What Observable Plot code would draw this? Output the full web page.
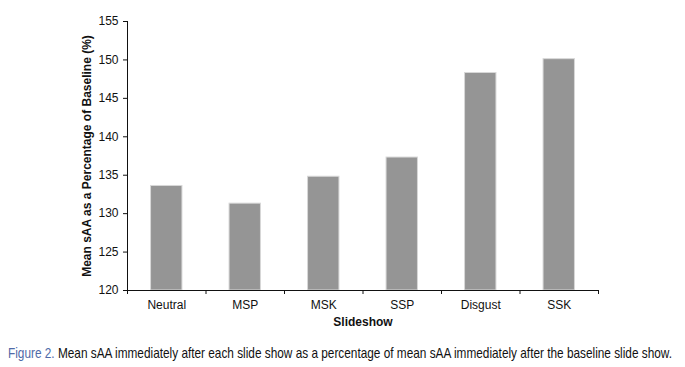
<!DOCTYPE html>
<html>
<head>
<meta charset="utf-8">
<script src="https://cdn.jsdelivr.net/npm/d3@7"></script>
<script src="https://cdn.jsdelivr.net/npm/@observablehq/plot@0.6"></script>
<style>
  body { margin: 0; background: #fff; }
  #chart svg { display: block; }
  .caption { font-family: "Liberation Sans", Arial, sans-serif; font-size: 15px; line-height: 17px; color: #111; margin: 9px 0 0 8px; white-space: nowrap; display: inline-block; transform-origin: left center; }
  .caption b { color: #4f6aa8; font-weight: normal; }
</style>
</head>
<body>
<div id="chart"></div>
<div class="caption" id="cap"><b>Figure 2.</b> Mean sAA immediately after each slide show as a percentage of mean sAA immediately after the baseline slide show.</div>
<script>
const categories = ["Neutral", "MSP", "MSK", "SSP", "Disgust", "SSK"];
const values = [133.6, 131.3, 134.8, 137.3, 148.3, 150.1];
const yTicks = [120, 125, 130, 135, 140, 145, 150, 155];

const data = categories.map((c, i) => ({ cat: c, i, v: values[i] }));

const chart = Plot.plot({
  width: 685,
  height: 335,
  marginLeft: 127,
  marginRight: 87,
  marginTop: 21,
  marginBottom: 45,
  style: { fontFamily: "Liberation Sans, Arial, sans-serif", fontSize: "12px", color: "#111" },
  x: { type: "linear", domain: [0, categories.length] },
  y: { domain: [120, 155] },
  marks: [
    Plot.rectY(data, { x1: d => d.i + 0.3, x2: d => d.i + 0.7, y1: 120, y2: "v", fill: "#959595", stroke: "#d8d8d8", strokeWidth: 1 }),
    Plot.ruleY([120], { stroke: "#111" }),
    Plot.ruleX([0], { stroke: "#111" }),
    Plot.axisY({ ticks: yTicks, tickSize: 4, tickPadding: 5, label: null, fontSize: 12 }),
    Plot.axisX({ ticks: d3.range(0, categories.length + 1), tickSize: 4, tickFormat: () => "", label: null }),
    Plot.axisX({ ticks: categories.map((c, i) => i + 0.5), tickSize: 0, tickPadding: 10, tickFormat: t => categories[Math.floor(t)], label: null, fontSize: 12 }),
    Plot.text(["Mean sAA as a Percentage of Baseline (%)"], { frameAnchor: "left", textAnchor: "middle", dx: -40, rotate: -90, fontWeight: "bold", fontSize: 12 }),
    Plot.text(["Slideshow"], { frameAnchor: "bottom", dy: 35, fontWeight: "bold", fontSize: 12 })
  ]
});
document.getElementById("chart").appendChild(chart);
const cap = document.getElementById("cap");
const w = cap.getBoundingClientRect().width;
cap.style.transform = `scaleX(${664 / w})`;
</script>
</body>
</html>
